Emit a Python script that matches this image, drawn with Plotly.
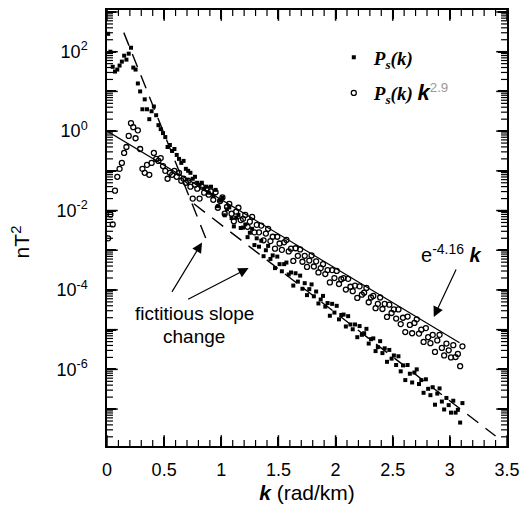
import numpy as np
import plotly.graph_objects as go

# ---- data ----
k_vals = [0.01, 0.03, 0.05, 0.07, 0.09, 0.11, 0.13, 0.15, 0.17, 0.19,
          0.21, 0.23, 0.25, 0.27, 0.29, 0.31, 0.33, 0.35, 0.37, 0.39,
          0.41, 0.43, 0.45, 0.47, 0.49, 0.51, 0.53, 0.55, 0.57, 0.59,
          0.61, 0.63, 0.65, 0.67, 0.69, 0.71, 0.73, 0.75, 0.77, 0.79,
          0.81, 0.83, 0.85, 0.87, 0.89, 0.91, 0.93, 0.95, 0.97, 0.99,
          1.01, 1.03, 1.05, 1.07, 1.09, 1.11, 1.13, 1.15, 1.17, 1.19,
          1.21, 1.23, 1.25, 1.27, 1.29, 1.31, 1.33, 1.35, 1.37, 1.39,
          1.41, 1.43, 1.45, 1.47, 1.49, 1.51, 1.53, 1.55, 1.57, 1.59,
          1.61, 1.63, 1.65, 1.67, 1.69, 1.71, 1.73, 1.75, 1.77, 1.79,
          1.81, 1.83, 1.85, 1.87, 1.89, 1.91, 1.93, 1.95, 1.97, 1.99,
          2.01, 2.03, 2.05, 2.07, 2.09, 2.11, 2.13, 2.15, 2.17, 2.19,
          2.21, 2.23, 2.25, 2.27, 2.29, 2.31, 2.33, 2.35, 2.37, 2.39,
          2.41, 2.43, 2.45, 2.47, 2.49, 2.51, 2.53, 2.55, 2.57, 2.59,
          2.61, 2.63, 2.65, 2.67, 2.69, 2.71, 2.73, 2.75, 2.77, 2.79,
          2.81, 2.83, 2.85, 2.87, 2.89, 2.91, 2.93, 2.95, 2.97, 2.99,
          3.01, 3.03, 3.05, 3.07, 3.09, 3.11]

# log10 of P_s(k)  (filled dots)
ps_log10 = [2.45, 2.00, 1.62, 1.50, 1.55, 1.65, 1.75, 1.90, 1.80, 1.95,
            2.10, 1.60, 1.55, 1.20, 1.00, 0.55, 0.80, 0.55, 0.30, 0.50,
            0.62, 0.40, 0.15, 0.05, -0.05, -0.15, -0.40, -0.35, -0.50, -0.45,
            -0.60, -0.70, -0.80, -0.75, -0.95, -1.00, -1.05, -1.20, -1.15, -1.30,
            -1.35, -1.30, -1.45, -1.40, -1.55, -1.40, -1.64, -1.48, -1.89, -1.75,
            -1.68, -2.12, -1.97, -1.92, -2.19, -2.40, -2.18, -2.11, -2.44, -2.43,
            -2.35, -2.67, -2.56, -2.46, -2.87, -2.70, -2.91, -2.76, -3.15, -3.00,
            -2.89, -3.22, -3.13, -3.45, -3.16, -3.35, -3.53, -3.35, -3.31, -3.61,
            -3.56, -3.89, -3.58, -3.79, -3.64, -3.97, -3.83, -4.13, -3.98, -3.86,
            -4.16, -4.04, -4.34, -4.24, -4.15, -4.42, -4.33, -4.65, -4.35, -4.57,
            -4.40, -4.74, -4.63, -4.62, -4.92, -4.66, -4.87, -4.99, -4.87, -5.19,
            -4.91, -5.13, -5.09, -4.98, -5.35, -5.24, -5.22, -5.54, -5.44, -5.29,
            -5.59, -5.47, -5.81, -5.51, -5.73, -5.65, -5.89, -5.67, -6.05, -5.90,
            -6.27, -5.89, -6.11, -6.33, -6.08, -6.00, -6.37, -6.27, -6.59, -6.25,
            -6.49, -6.65, -6.45, -6.89, -6.61, -6.48, -6.81, -7.01, -6.72, -6.90,
            -7.09, -6.79, -7.09, -7.02, -7.34, -6.85]

# log10 of P_s(k) k^2.9  (open circles)
psk_log10 = [-2.70, -2.10, -2.35, -1.50, -1.15, -0.95, -0.80, -0.55, -0.40, -0.12,
             0.20, 0.10, -0.18, 0.02, -0.45, -0.95, -1.05, -0.85, -1.10, -0.80,
             -0.55, -0.70, -0.75, -0.68, -0.88, -1.00, -1.20, -1.05, -1.10, -1.00,
             -1.15, -1.05, -1.25, -1.20, -1.30, -1.25, -1.40, -1.70, -1.35, -1.45,
             -1.70, -1.40, -1.55, -1.45, -1.60, -1.52, -1.73, -1.54, -1.93, -1.76,
             -1.67, -2.08, -1.91, -1.83, -2.08, -2.27, -2.03, -1.93, -2.24, -2.21,
             -2.11, -2.41, -2.28, -2.16, -2.55, -2.36, -2.55, -2.38, -2.75, -2.58,
             -2.46, -2.77, -2.66, -2.96, -2.66, -2.83, -2.99, -2.80, -2.74, -3.03,
             -2.96, -3.27, -2.95, -3.14, -2.98, -3.29, -3.14, -3.42, -3.26, -3.13,
             -3.41, -3.28, -3.56, -3.45, -3.35, -3.60, -3.50, -3.81, -3.50, -3.70,
             -3.52, -3.85, -3.73, -3.70, -3.99, -3.72, -3.92, -4.03, -3.89, -4.20,
             -3.91, -4.12, -4.07, -3.95, -4.31, -4.19, -4.15, -4.46, -4.35, -4.19,
             -4.48, -4.35, -4.68, -4.37, -4.58, -4.49, -4.72, -4.49, -4.86, -4.70,
             -5.06, -4.67, -4.88, -5.09, -4.83, -4.74, -5.10, -5.00, -5.31, -4.96,
             -5.19, -5.34, -5.13, -5.56, -5.27, -5.13, -5.46, -5.65, -5.35, -5.52,
             -5.70, -5.39, -5.69, -5.61, -5.92, -5.42]

# reference lines (end points)
exp_line_k = [0.0, 3.085]
exp_line_log10 = [0.0, -5.33]
steep_dash_k = [0.147, 0.89]
steep_dash_log10 = [2.48, -2.88]
shallow_dash_k = [0.76, 3.40]
shallow_dash_log10 = [-1.83, -7.68]

x_tick_vals = [0, 0.5, 1, 1.5, 2, 2.5, 3, 3.5]
x_tick_text = ["0", "0.5", "1", "1.5", "2", "2.5", "3", "3.5"]
y_decades = list(range(-8, 4))
y_tick_text = ["10<sup>%d</sup>" % d if d % 2 == 0 else "" for d in y_decades]

SANS = "Liberation Sans, Arial, sans-serif"
SERIF = "Liberation Serif, DejaVu Serif, serif"

W, H = 528, 509
M_L, M_R, M_T, M_B = 107, 17, 8, 62
X_RANGE = [0.0, 3.5]
Y_RANGE = [-7.93, 3.05]          # log10 units
PX_W = W - M_L - M_R
PX_H = H - M_T - M_B

fig = go.Figure()

fig.add_trace(go.Scatter(x=exp_line_k, y=10 ** np.array(exp_line_log10), mode="lines",
                         line=dict(color="black", width=1.2), showlegend=False, hoverinfo="skip"))
fig.add_trace(go.Scatter(x=steep_dash_k, y=10 ** np.array(steep_dash_log10), mode="lines",
                         line=dict(color="black", width=1.4, dash="14px,9px"), showlegend=False, hoverinfo="skip"))
fig.add_trace(go.Scatter(x=shallow_dash_k, y=10 ** np.array(shallow_dash_log10), mode="lines",
                         line=dict(color="black", width=1.4, dash="14px,9px"), showlegend=False, hoverinfo="skip"))

fig.add_trace(go.Scatter(
    x=k_vals, y=10 ** np.array(ps_log10), mode="markers",
    marker=dict(symbol="square", size=4, color="black"),
    name="<b><i>P</i><sub><i>s</i></sub><i>(k)</i></b>", legendgroup="a"))
fig.add_trace(go.Scatter(
    x=k_vals, y=10 ** np.array(psk_log10), mode="markers",
    marker=dict(symbol="circle-open", size=5, color="black", line=dict(width=1.3)),
    name=("<b><i>P</i><sub><i>s</i></sub><i>(k)</i></b> "
          "<span style='font-family:Liberation Sans;font-size:22px'><b><i>k</i></b></span>"
          "<sup><span style='font-family:Liberation Sans;color:#999999'>2.9</span></sup>"),
    legendgroup="b"))


# ---- inward tick marks on all four sides (axis decoration), drawn as line markers ----
def add_ticks(xvals, yvals_log, length, width):
    half_dx = 0.5 * length * (X_RANGE[1] - X_RANGE[0]) / PX_W
    half_dy = 0.5 * length * (Y_RANGE[1] - Y_RANGE[0]) / PX_H
    # bottom and top ticks (vertical strokes)
    bx = list(xvals) * 2
    by = [10 ** (Y_RANGE[0] + half_dy)] * len(xvals) + [10 ** (Y_RANGE[1] - half_dy)] * len(xvals)
    fig.add_trace(go.Scatter(x=bx, y=by, mode="markers", showlegend=False, hoverinfo="skip",
                             marker=dict(symbol="line-ns", size=length, color="black",
                                         line=dict(color="black", width=width))))
    # left and right ticks (horizontal strokes)
    lx = [X_RANGE[0] + half_dx] * len(yvals_log) + [X_RANGE[1] - half_dx] * len(yvals_log)
    ly = [10 ** t for t in yvals_log] * 2
    fig.add_trace(go.Scatter(x=lx, y=ly, mode="markers", showlegend=False, hoverinfo="skip",
                             marker=dict(symbol="line-ew", size=length, color="black",
                                         line=dict(color="black", width=width))))


x_minor = [i / 10 for i in range(1, 35) if i % 5 != 0]
y_minor = [d + float(np.log10(m)) for d in range(-8, 3) for m in range(2, 10)]
add_ticks(x_tick_vals, [float(d) for d in y_decades], 9, 1.5)
add_ticks(x_minor, y_minor, 5, 1.2)

fig.update_xaxes(
    range=X_RANGE, tickmode="array", tickvals=x_tick_vals, ticktext=x_tick_text,
    ticks="inside", ticklen=9, tickwidth=1.5, tickcolor="black",
    showline=True, linecolor="black", linewidth=1.5, mirror="ticks",
    showgrid=False, zeroline=False,
    tickfont=dict(family=SANS, size=18, color="black"),
    ticklabelstandoff=7,
    title=dict(text="<b><i>k</i></b> (rad/km)", font=dict(family=SANS, size=21, color="black"), standoff=6),
)
fig.update_yaxes(
    type="log", range=Y_RANGE,
    tickmode="array", tickvals=[10.0 ** d for d in y_decades], ticktext=y_tick_text,
    ticks="inside", ticklen=9, tickwidth=1.5, tickcolor="black",
    showline=True, linecolor="black", linewidth=1.5, mirror="ticks",
    showgrid=False, zeroline=False,
    tickfont=dict(family=SANS, size=18, color="black"),
    ticklabelstandoff=14,
)

arrow_common = dict(xref="paper", yref="paper", text="", showarrow=True,
                    arrowhead=2, arrowsize=1.7, arrowwidth=1.2, arrowcolor="black")

fig.update_layout(
    width=W, height=H,
    margin=dict(l=M_L, r=M_R, t=M_T, b=M_B),
    paper_bgcolor="white", plot_bgcolor="white",
    legend=dict(x=0.567, y=0.935, xanchor="left", yanchor="top",
                font=dict(family=SERIF, size=19, color="black"),
                bgcolor="rgba(0,0,0,0)", traceorder="grouped", tracegroupgap=8),
    annotations=[
        dict(xref="paper", yref="paper", x=-0.215, y=0.467, xanchor="center", yanchor="middle",
             text="nT<sup>2</sup>", textangle=-90, showarrow=False,
             font=dict(family=SANS, size=21, color="black")),
        dict(xref="paper", yref="paper", x=0.218, y=0.305, xanchor="center", yanchor="middle",
             text="fictitious slope", showarrow=False, font=dict(family=SANS, size=19, color="black")),
        dict(xref="paper", yref="paper", x=0.218, y=0.252, xanchor="center", yanchor="middle",
             text="change", showarrow=False, font=dict(family=SANS, size=19, color="black")),
        dict(xref="paper", yref="paper", x=0.861, y=0.442, xanchor="center", yanchor="middle",
             text="e<sup>-4.16</sup> <b><i>k</i></b>",
             showarrow=False, font=dict(family=SANS, size=20, color="black")),
        dict(x=0.2376, y=0.467, ax=-31, ay=51, **arrow_common),
        dict(x=0.354, y=0.408, ax=-62, ay=32, **arrow_common),
        dict(x=0.817, y=0.296, ax=23, ay=-49, **arrow_common),
    ],
)

fig.write_html("out.html")
